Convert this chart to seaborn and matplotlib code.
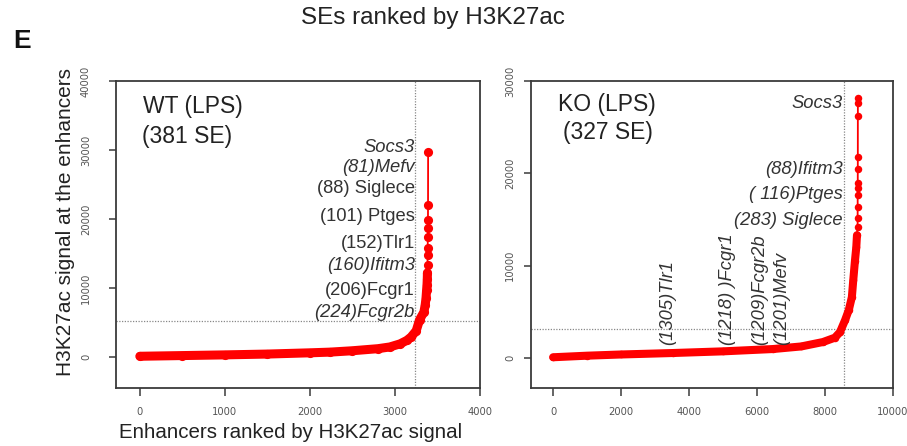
import matplotlib
matplotlib.use("Agg")
import matplotlib.pyplot as plt
import seaborn as sns
import pandas as pd

# ---------------- data ----------------
wt_rank = [0, 500, 1000, 1500, 2000, 2235, 2500, 2800, 2940, 3060, 3140, 3190,
           3250, 3290, 3340, 3355, 3365, 3372, 3377, 3380,
           3382, 3383, 3384, 3385, 3386, 3387, 3388, 3389, 3390]
wt_signal = [100, 200, 300, 420, 600, 700, 900, 1200, 1450, 1900, 2400, 2900,
             3800, 5400, 6500, 7500, 8500, 9700, 10500, 11300,
             12200, 13300, 14800, 15800, 17400, 18700, 19850, 22000, 29700]

ko_rank = [0, 1000, 2000, 3530, 5000, 6470, 7300, 7940, 8290, 8440, 8590, 8700,
           8790, 8830, 8880, 8920, 8940,
           8958, 8959, 8960, 8961, 8962, 8963, 8964, 8965, 8966, 8967, 8968]
ko_signal = [80, 250, 380, 540, 720, 970, 1250, 1730, 2200, 2800, 4100, 5200,
             6600, 8400, 10500, 12000, 13300,
             14200, 15200, 16300, 17600, 18400, 19000, 20500, 21800, 26200, 27600, 28200]

wt_cut_rank, wt_cut_signal = 3235, 5200
ko_cut_rank, ko_cut_signal = 8560, 3135

wt_labels = ["Socs3", "(81)Mefv", "(88) Siglece", "(101) Ptges", "(152)Tlr1",
             "(160)Ifitm3", "(206)Fcgr1", "(224)Fcgr2b"]
wt_label_y = [30300, 27500, 24350, 20300, 16400, 13200, 9700, 6400]
wt_label_italic = [True, True, False, False, False, True, False, True]

ko_labels = ["Socs3", "(88)Ifitm3", "( 116)Ptges", "(283) Siglece"]
ko_label_y = [27600, 20400, 17700, 14900]

ko_vlabels = ["(1305)Tlr1", "(1218) )Fcgr1", "(1209)Fcgr2b", "(1201)Mefv"]
ko_vlabel_x = [3380, 5120, 6090, 6735]

wt_xticks = [0, 1000, 2000, 3000, 4000]
wt_yticks = [0, 10000, 20000, 30000, 40000]
ko_xticks = [0, 2000, 4000, 6000, 8000, 10000]
ko_yticks = [0, 10000, 20000, 30000]

# ---------------- style ----------------
sns.set_theme(style="white")
plt.rcParams["font.family"] = ["Liberation Sans", "DejaVu Sans"]

RED = "#ff0000"
SPINE = "#3a3a3a"
TICKC = "#555555"
TXT = "#222222"

fig = plt.figure(figsize=(9.07, 4.46), dpi=100)
W, H = 907, 446


def add_ax(x0, y0, x1, y1):
    return fig.add_axes([x0 / W, 1 - y1 / H, (x1 - x0) / W, (y1 - y0) / H])


def draw_panel(ax, rank, signal, dense_max, ms, lw_band, cut_r, cut_s,
               xlim, ylim, xticks, yticks, ypad):
    df = pd.DataFrame({"rank": rank, "signal": signal})
    dense = df[df["signal"] <= dense_max]
    # thick band of overlapping markers
    ax.plot(dense["rank"], dense["signal"], color=RED, lw=lw_band,
            solid_capstyle="round", solid_joinstyle="round", zorder=3)
    # thin connecting line and markers
    sns.lineplot(data=df, x="rank", y="signal", ax=ax, color=RED, lw=1.3,
                 sort=False, estimator=None, zorder=3)
    sns.scatterplot(data=df, x="rank", y="signal", ax=ax, color=RED, s=ms ** 2,
                    edgecolor=RED, linewidth=0, zorder=4)
    ax.axvline(cut_r, color="#888888", ls=(0, (1, 1.2)), lw=0.9, zorder=1)
    ax.axhline(cut_s, color="#888888", ls=(0, (1, 1.2)), lw=0.9, zorder=1)
    ax.set_xlim(*xlim)
    ax.set_ylim(*ylim)
    ax.set_xticks(xticks)
    ax.set_yticks(yticks)
    ax.set_xticklabels([str(t) for t in xticks], fontsize=7.2, color=TICKC,
                       family="DejaVu Sans")
    ax.set_yticklabels([str(t) for t in yticks], fontsize=7.2, color=TICKC,
                       family="DejaVu Sans", rotation=90, va="center")
    ax.tick_params(axis="x", direction="out", length=6, width=1.1,
                   color=SPINE, pad=8, bottom=True)
    ax.tick_params(axis="y", direction="out", length=5, width=1.1,
                   color=SPINE, pad=ypad, left=True)
    for s in ax.spines.values():
        s.set_color(SPINE)
        s.set_linewidth(1.3)
        s.set_visible(True)
    ax.set_xlabel("")
    ax.set_ylabel("")


ax1 = add_ax(116, 81, 480, 388)
draw_panel(ax1, wt_rank, wt_signal, 12200, 6.6, 6.5, wt_cut_rank, wt_cut_signal,
           (-280, 4000), (-4500, 40000), wt_xticks, wt_yticks, 13)

ax2 = add_ax(531, 81, 893, 388)
draw_panel(ax2, ko_rank, ko_signal, 13300, 5.4, 5.8, ko_cut_rank, ko_cut_signal,
           (-650, 10000), (-3250, 30000), ko_xticks, ko_yticks, 6.5)

# panel annotations
fig.text(143 / W, 1 - 106 / H, "WT (LPS)", fontsize=16.5, color=TXT,
         ha="left", va="center")
fig.text(142 / W, 1 - 137 / H, "(381 SE)", fontsize=16.5, color=TXT,
         ha="left", va="center")
fig.text(558 / W, 1 - 105 / H, "KO (LPS)", fontsize=16.5, color=TXT,
         ha="left", va="center")
fig.text(563 / W, 1 - 132 / H, "(327 SE)", fontsize=16.5, color=TXT,
         ha="left", va="center")

for lab, y, it in zip(wt_labels, wt_label_y, wt_label_italic):
    ax1.text(wt_cut_rank, y, lab, fontsize=13.2, color="#333333", ha="right",
             va="center", style="italic" if it else "normal", zorder=5)

for lab, y in zip(ko_labels, ko_label_y):
    ax2.text(ko_cut_rank - 30, y, lab, fontsize=13.2, color="#333333",
             ha="right", va="center", style="italic", zorder=5)

for lab, x in zip(ko_vlabels, ko_vlabel_x):
    ax2.text(x, 1400, lab, fontsize=13.2, color="#333333", ha="center",
             va="bottom", rotation=90, style="italic", zorder=5)

fig.text(433 / W, 1 - 18 / H, "SEs ranked by H3K27ac", fontsize=17.5,
         color=TXT, ha="center", va="center")
fig.text(13 / W, 1 - 41 / H, "E", fontsize=19, fontweight="bold",
         color="#111111", ha="left", va="center")
fig.text(291 / W, 1 - 433 / H, "Enhancers ranked by H3K27ac signal",
         fontsize=14.8, color=TXT, ha="center", va="center")
fig.text(66 / W, 1 - 222 / H, "H3K27ac signal at the enhancers",
         fontsize=15, color=TXT, ha="center", va="center", rotation=90)

fig.savefig("out.png", dpi=100)
